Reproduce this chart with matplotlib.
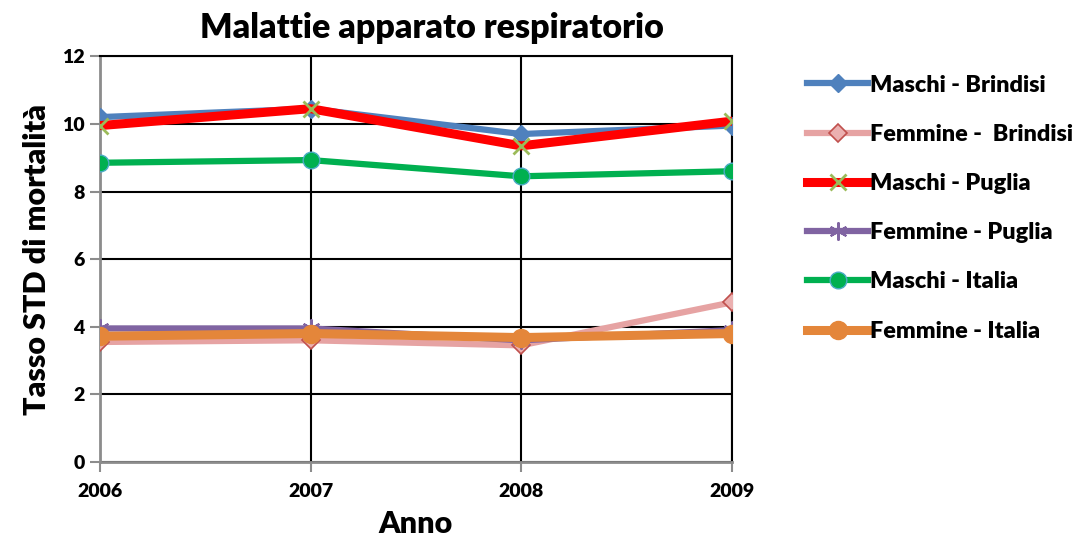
import matplotlib
matplotlib.use("Agg")
import matplotlib.pyplot as plt

plt.rcParams['font.family'] = ['Lato', 'DejaVu Sans']

years = [2006, 2007, 2008, 2009]
maschi_brindisi = [10.2, 10.45, 9.7, 9.95]
femmine_brindisi = [3.55, 3.6, 3.45, 4.72]
maschi_puglia = [9.95, 10.45, 9.35, 10.08]
femmine_puglia = [3.95, 3.95, 3.6, 3.9]
maschi_italia = [8.85, 8.93, 8.45, 8.6]
femmine_italia = [3.72, 3.8, 3.68, 3.8]

labels = ["Maschi - Brindisi", "Femmine -  Brindisi", "Maschi - Puglia",
          "Femmine - Puglia", "Maschi - Italia", "Femmine - Italia"]

fig = plt.figure(figsize=(10.87, 5.41), dpi=100)
ax = fig.add_axes([0.092, 0.146, 0.581, 0.750])

ax.plot(years, maschi_brindisi, color='#4F81BD', lw=4.5, marker='D', ms=9,
        mfc='#4F81BD', mec='#4F81BD', label=labels[0], zorder=3)
ax.plot(years, femmine_brindisi, color='#E6A3A3', lw=4.5, marker='D', ms=9,
        mfc='#EBB0B0', mec='#C0504D', mew=1.2, label=labels[1], zorder=3)
ax.plot(years, maschi_puglia, color='#FF0000', lw=6.5, marker='x', ms=12,
        mec='#9BBB59', mew=2, label=labels[2], zorder=4)
ax.plot(years, femmine_puglia, color='#8064A2', lw=4.5, marker=(6, 2, 0), ms=13,
        mec='#8064A2', mew=1.5, label=labels[3], zorder=3)
ax.plot(years, maschi_italia, color='#00B050', lw=4.5, marker='o', ms=12,
        mfc='#00B050', mec='#4BACC6', mew=1, label=labels[4], zorder=4)
ax.plot(years, femmine_italia, color='#E4863A', lw=6.5, marker='o', ms=13,
        mfc='#E4863A', mec='#E4863A', label=labels[5], zorder=5)

ax.set_xlim(2006, 2009)
ax.set_ylim(0, 12)
ax.set_xticks(years)
ax.set_xticklabels([str(y) for y in years])
ax.set_yticks([0, 2, 4, 6, 8, 10, 12])

ax.grid(True, color='black', lw=1.5, zorder=1)
ax.set_axisbelow(True)
for s in ['top', 'right']:
    ax.spines[s].set_color('black')
    ax.spines[s].set_linewidth(1.5)
for s in ['left', 'bottom']:
    ax.spines[s].set_color('#8C8C8C')
    ax.spines[s].set_linewidth(2)

ax.tick_params(axis='both', direction='out', length=7, width=1.5, color='#8C8C8C',
               labelsize=14, pad=4)
for lab in ax.get_xticklabels() + ax.get_yticklabels():
    lab.set_fontweight('heavy')
ax.tick_params(axis='x', pad=8)

fig.text(0.397, 0.948, "Malattie apparato respiratorio", fontsize=24.5,
         fontweight='heavy', ha='center', va='center')
ax.set_xlabel("Anno", fontsize=22, fontweight='heavy', labelpad=7)
ax.set_ylabel("Tasso STD di mortalità", fontsize=22, fontweight='heavy', labelpad=8)

leg = ax.legend(loc='upper left', bbox_to_anchor=(1.12, 0.955), frameon=False,
                borderpad=0, borderaxespad=0, labelspacing=1.21, handlelength=2.6,
                handletextpad=0.1, prop={'weight': 'heavy', 'size': 16.8})

fig.savefig("out.png", dpi=100)
